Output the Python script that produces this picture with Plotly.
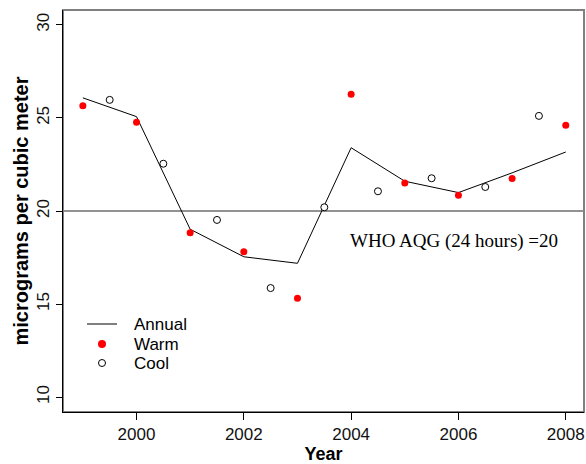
import plotly.graph_objects as go

annual_years = [1999, 2000, 2001, 2002, 2003, 2004, 2005, 2006, 2007, 2008]
annual_vals = [26.08, 25.07, 19.02, 17.54, 17.19, 23.40, 21.60, 20.99, 22.05, 23.17]

warm_years = [1999, 2000, 2001, 2002, 2003, 2004, 2005, 2006, 2007, 2008]
warm_vals = [25.66, 24.77, 18.83, 17.81, 15.31, 26.27, 21.50, 20.84, 21.74, 24.61]

cool_years = [1999.5, 2000.5, 2001.5, 2002.5, 2003.5, 2004.5, 2005.5, 2006.5, 2007.5]
cool_vals = [25.97, 22.54, 19.52, 15.86, 20.20, 21.06, 21.76, 21.29, 25.11]

x_ticks = [2000, 2002, 2004, 2006, 2008]
y_ticks = [10, 15, 20, 25, 30]
who_level = 20
who_label = "WHO AQG (24 hours) =20"
legend_labels = ["Annual", "Warm", "Cool"]

FONT = "Liberation Sans, Arial, sans-serif"

W, H = 586, 464
ML, MR, MT, MB = 63, 2, 10, 52
PW, PH = W - ML - MR, H - MT - MB


def px(xp):
    return (xp - ML) / PW


def py(yp):
    return (H - MB - yp) / PH


fig = go.Figure()
fig.add_trace(go.Scatter(x=annual_years, y=annual_vals, mode="lines", name=legend_labels[0],
                         line=dict(color="black", width=1), showlegend=False))
fig.add_trace(go.Scatter(x=warm_years, y=warm_vals, mode="markers", name=legend_labels[1],
                         marker=dict(color="red", size=7, line=dict(width=0)), showlegend=False))
fig.add_trace(go.Scatter(x=cool_years, y=cool_vals, mode="markers", name=legend_labels[2],
                         marker=dict(color="white", size=7, symbol="circle",
                                     line=dict(color="black", width=1)), showlegend=False))

fig.add_hline(y=who_level, line=dict(color="#6e6e6e", width=1.5), layer="below")

fig.add_annotation(x=2005.92, y=18.38, xref="x", yref="y", text=who_label, showarrow=False,
                   font=dict(family="Liberation Serif, Times New Roman, serif", size=19, color="black"))

# gray box (top/right border)
fig.add_shape(type="rect", xref="paper", yref="paper", x0=0, y0=0, x1=1, y1=1,
              line=dict(color="#808080", width=2), layer="below")

# manual legend (R-style, tight rows)
row_y = [324, 344, 363]
fig.add_shape(type="line", xref="paper", yref="paper", x0=px(87), x1=px(117),
              y0=py(row_y[0]), y1=py(row_y[0]), line=dict(color="black", width=1))
fig.add_shape(type="circle", xref="paper", yref="paper", xsizemode="pixel", ysizemode="pixel",
              xanchor=px(102), yanchor=py(row_y[1]), x0=-4, x1=4, y0=-4, y1=4,
              fillcolor="red", line=dict(width=0))
fig.add_shape(type="circle", xref="paper", yref="paper", xsizemode="pixel", ysizemode="pixel",
              xanchor=px(102), yanchor=py(row_y[2]), x0=-3.5, x1=3.5, y0=-3.5, y1=3.5,
              fillcolor="white", line=dict(color="black", width=1))
for lbl, ry in zip(legend_labels, row_y):
    fig.add_annotation(x=px(132), y=py(ry), xref="paper", yref="paper", text=lbl,
                       showarrow=False, xanchor="left", yanchor="middle",
                       font=dict(size=17, family=FONT, color="black"))

fig.update_layout(
    width=W, height=H,
    margin=dict(l=ML, r=MR, t=MT, b=MB),
    paper_bgcolor="white", plot_bgcolor="white",
    font=dict(family=FONT, color="black"),
    showlegend=False,
    xaxis=dict(range=[1998.63, 2008.34], tickvals=x_ticks, ticktext=[str(v) for v in x_ticks],
               showgrid=False, zeroline=False, showline=True, linecolor="black", linewidth=1,
               ticks="outside", ticklen=7, tickcolor="black",
               tickfont=dict(size=17, family=FONT, color="#111"),
               title=dict(text="<b>Year</b>", font=dict(size=18, family=FONT), standoff=4)),
    yaxis=dict(range=[9.2, 30.8], tickvals=y_ticks, ticktext=[str(v) for v in y_ticks],
               showgrid=False, zeroline=False, showline=True, linecolor="black", linewidth=1,
               ticks="outside", ticklen=6, tickcolor="black", tickangle=-90,
               tickfont=dict(size=17, family=FONT, color="#111"),
               title=dict(text="<b>micrograms per cubic meter</b>", font=dict(size=20, family=FONT), standoff=0)),
)

fig.write_html("out.html")
